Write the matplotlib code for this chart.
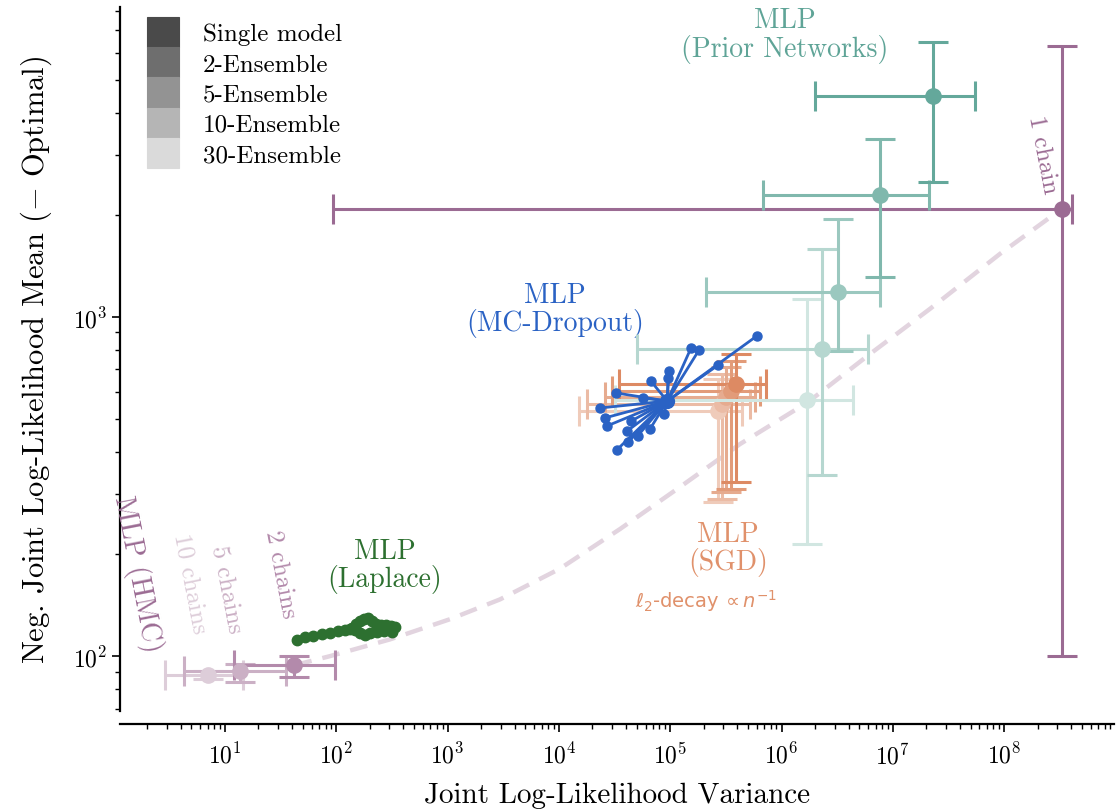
import numpy as np
import matplotlib
matplotlib.use("Agg")
import matplotlib.pyplot as plt
from matplotlib.patches import Patch
from matplotlib.ticker import NullFormatter, FixedLocator

plt.rcParams['font.family'] = ['cmr10', 'DejaVu Serif']
plt.rcParams['mathtext.fontset'] = 'cm'
plt.rcParams['axes.formatter.use_mathtext'] = True
plt.rcParams['axes.unicode_minus'] = False

# ---------------- data ----------------
legend_labels = ['Single model', '2-Ensemble', '5-Ensemble', '10-Ensemble', '30-Ensemble']
legend_grays = ['#4a4a4a', '#6e6e6e', '#939393', '#b5b5b5', '#dadada']

# HMC (1, 2, 5, 10 chains)
hmc_labels = ['1 chain', '2 chains', '5 chains', '10 chains']
hmc_x = [3.3e8, 42, 13.6, 7.0]
hmc_x_lo = [93, 12.0, 4.3, 2.9]
hmc_x_hi = [4.1e8, 97, 35, 14.5]
hmc_y = [2085, 94, 90.5, 88]
hmc_y_lo = [100, 86.7, 84, 85.5]
hmc_y_hi = [6300, 100, 95, 90.5]

# HMC trend curve (dashed)
curve_x = [42, 87.8, 303, 1052, 2960, 1.02e4, 3.54e4, 1.22e5, 4.24e5, 1.73e6,
           6.24e6, 2.16e7, 9.18e7, 3.3e8]
curve_y = [94, 100, 112, 128.5, 147, 181, 237, 315, 422, 561,
           778, 1057, 1535, 2085]

# Prior Networks (single, 2, 5, 10, 30)
pn_x = [2.3e7, 7.7e6, 3.2e6, 2.3e6, 1.7e6]
pn_x_lo = [2.0e6, 6.8e5, 2.1e5, 5.0e4, 3.2e4]
pn_x_hi = [5.5e7, 2.1e7, 7.7e6, 6.0e6, 4.4e6]
pn_y = [4490, 2290, 1186, 805, 569]
pn_y_lo = [2500, 1312, 795, 342, 214]
pn_y_hi = [6470, 3350, 1945, 1585, 1130]

# SGD (single, 2, 5, 10, 30)
sgd_x = [3.9e5, 3.5e5, 3.2e5, 2.9e5, 2.7e5]
sgd_x_lo = [3.5e4, 3.0e4, 2.6e4, 1.8e4, 1.5e4]
sgd_x_hi = [7.3e5, 6.4e5, 5.8e5, 5.2e5, 4.4e5]
sgd_y = [634, 605, 581, 553, 528]
sgd_y_lo = [326, 311, 305, 290, 284]
sgd_y_hi = [778, 741, 712, 679, 656]

# MC-Dropout: centre and ray end points
mcd_center_x = 9.4e4
mcd_center_y = 565
mcd_x = [6.0e5, 2.69e5, 1.54e5, 1.82e5, 9.75e4, 9.55e4, 6.7e4, 3.26e4, 5.7e4, 2.34e4,
         8.8e4, 2.6e4, 2.7e4, 4.45e4, 4.1e4, 6.6e4, 5.1e4, 4.2e4, 3.3e4]
mcd_y = [879, 721, 811, 800, 693, 661, 647, 597, 577, 539,
         518, 504, 477, 493, 461, 468, 446, 428, 405]

# Laplace
lap_x = [44, 52, 62, 74, 88, 104, 120, 138, 150, 163, 177, 193, 209, 227, 252, 280,
         310, 337, 316, 268, 232, 201, 181, 163, 147, 133]
lap_y = [111.5, 113.8, 114.5, 116.1, 117, 118.5, 119.3, 121, 124.3, 126.8, 128.5, 129.4,
         126.8, 124.3, 123.4, 123.4, 122.6, 121.8, 117.7, 118.5, 117.7, 117, 115.3, 117,
         119.3, 120.1]

# axis ticks
x_major_ticks = [1e1, 1e2, 1e3, 1e4, 1e5, 1e6, 1e7, 1e8]
y_major_ticks = [1e2, 1e3]

# ---------------- styles ----------------
hmc_colors = ['#9b6b93', '#b38aab', '#cbb0c5', '#ddcdd9']
pn_colors = ['#64a89b', '#80b8ad', '#9bc8bf', '#b6d7d0', '#d1e6e1']
sgd_colors = ['#dd8a63', '#e29b79', '#e6ab8f', '#ebbba5', '#efcbba']
blue = '#2a62c4'
green = '#2d7030'

fig = plt.figure(figsize=(11.19, 8.12), dpi=100)
ax = fig.add_axes([120 / 1119, 100 / 812, 994 / 1119, 704 / 812])
ax.set_xscale('log')
ax.set_yscale('log')

eb_kw = dict(fmt='o', markersize=11, capsize=11, elinewidth=2.2, capthick=2.2)


def draw_group(xs, xlo, xhi, ys, ylo, yhi, colors, z):
    order = list(range(len(xs)))[::-1]
    for i in order:
        xe = [[xs[i] - xlo[i]], [xhi[i] - xs[i]]]
        ye = [[ys[i] - ylo[i]], [yhi[i] - ys[i]]]
        ax.errorbar([xs[i]], [ys[i]], xerr=xe, yerr=ye, color=colors[i],
                    zorder=z, **eb_kw)


# dashed trend
ax.plot(curve_x, curve_y, ls=(0, (4, 2.5)), lw=3.2, color='#e2d4df', zorder=1)

draw_group(hmc_x, hmc_x_lo, hmc_x_hi, hmc_y, hmc_y_lo, hmc_y_hi, hmc_colors, 2)
draw_group(sgd_x, sgd_x_lo, sgd_x_hi, sgd_y, sgd_y_lo, sgd_y_hi, sgd_colors, 3)
draw_group(pn_x, pn_x_lo, pn_x_hi, pn_y, pn_y_lo, pn_y_hi, pn_colors, 4)

# MC dropout rays
for xe, ye in zip(mcd_x, mcd_y):
    ax.plot([mcd_center_x, xe], [mcd_center_y, ye], '-o', color=blue, lw=2.0,
            markersize=6.5, zorder=5)
ax.plot([mcd_center_x], [mcd_center_y], 'o', color=blue, markersize=10, zorder=5)

# Laplace
ax.plot(lap_x, lap_y, '-o', color=green, lw=3.0, markersize=7.5, zorder=6)

# ---------------- text ----------------
ax.text(1.07e6, 6800, 'MLP\n(Prior Networks)', color='#5fa497', fontsize=20,
        ha='center', va='center', linespacing=1.05)
ax.text(9.2e3, 1050, 'MLP\n(MC-Dropout)', color=blue, fontsize=20,
        ha='center', va='center', linespacing=1.0)
ax.text(274, 185, 'MLP\n(Laplace)', color=green, fontsize=20,
        ha='center', va='center', linespacing=1.0)
ax.text(3.3e5, 208, 'MLP\n(SGD)', color='#e0916b', fontsize=20,
        ha='center', va='center', linespacing=1.0)
ax.text(2.1e5, 146, r'$\ell_2$-decay$\,\propto n^{-1}$', color='#e0916b', fontsize=14,
        ha='center', va='center', math_fontfamily='dejavusans', family='DejaVu Sans')
ax.text(1.62, 175, 'MLP (HMC)', color=hmc_colors[0], fontsize=20,
        ha='center', va='center', rotation=-79, rotation_mode='anchor')
ax.text(4.85, 165, '10 chains', color=hmc_colors[3], fontsize=18,
        ha='center', va='center', rotation=-79, rotation_mode='anchor')
ax.text(10.4, 158, '5 chains', color=hmc_colors[2], fontsize=18,
        ha='center', va='center', rotation=-79, rotation_mode='anchor')
ax.text(31.2, 175, '2 chains', color=hmc_colors[1], fontsize=18,
        ha='center', va='center', rotation=-79, rotation_mode='anchor')
ax.text(2.19e8, 3030, '1 chain', color=hmc_colors[0], fontsize=18,
        ha='center', va='center', rotation=-79, rotation_mode='anchor')

# ---------------- axes ----------------
xlim = (1.14, 9.7e8)
ylim = (68.9, 8200)
ax.set_xlim(*xlim)
ax.set_ylim(*ylim)
for s in ['top', 'right']:
    ax.spines[s].set_visible(False)
ax.spines['bottom'].set_position(('outward', 9))
for s in ['left', 'bottom']:
    ax.spines[s].set_linewidth(1.6)


def minor_locs(lo, hi):
    locs = []
    for k in range(int(np.floor(np.log10(lo))), int(np.ceil(np.log10(hi))) + 1):
        for m in range(2, 10):
            v = m * 10.0 ** k
            if lo <= v <= hi:
                locs.append(v)
    return locs


ax.xaxis.set_major_locator(FixedLocator(x_major_ticks))
ax.xaxis.set_minor_locator(FixedLocator(minor_locs(*xlim)))
ax.yaxis.set_major_locator(FixedLocator(y_major_ticks))
ax.yaxis.set_minor_locator(FixedLocator(minor_locs(*ylim)))
ax.xaxis.set_minor_formatter(NullFormatter())
ax.yaxis.set_minor_formatter(NullFormatter())
ax.tick_params(which='major', length=5.5, width=1.2, labelsize=17)
ax.tick_params(axis='x', which='major', pad=8)
ax.tick_params(which='minor', length=3.5, width=1.0)

ax.set_xlabel('Joint Log-Likelihood Variance', fontsize=21, labelpad=10)
ax.set_ylabel(r'Neg. Joint Log-Likelihood Mean ($-$ Optimal)', fontsize=22, labelpad=14)

handles = [Patch(facecolor=c, edgecolor=c, linewidth=0.8) for c in legend_grays]
fig.legend(handles, legend_labels, loc='upper left',
           bbox_to_anchor=(147 / 1119, 1 - 18 / 812), bbox_transform=fig.transFigure,
           frameon=False, fontsize=18, labelspacing=0, handleheight=1.48,
           handlelength=1.28, handletextpad=0.96, borderpad=0, borderaxespad=0)

fig.savefig('out.png', dpi=100)
